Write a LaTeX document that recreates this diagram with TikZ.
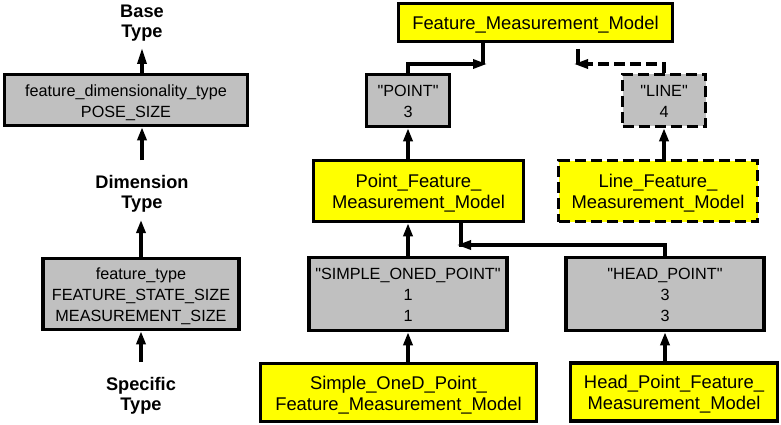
\documentclass[tikz,border=0pt]{standalone}
\usepackage{fontspec}
\newfontfamily\hv{Liberation Sans}
\usetikzlibrary{arrows.meta}
\definecolor{boxgray}{RGB}{192,192,192}
\definecolor{boxyellow}{RGB}{255,255,0}
\newcommand\gtext[1]{\raisebox{-7pt}[0pt][0pt]{\begin{tabular}{@{}c@{}}#1\end{tabular}}}
\newcommand\ytext[1]{\raisebox{-7.3pt}[0pt][0pt]{\begin{tabular}{@{}c@{}}#1\end{tabular}}}
\begin{document}
\begin{tikzpicture}[x=1pt,y=-1pt,font=\hv,
  gbox/.style={draw,line width=3.5pt,fill=boxgray,inner sep=0pt,font=\hv\fontsize{16.2}{21}\selectfont},
  ybox/.style={draw,line width=3.5pt,fill=boxyellow,inner sep=0pt,font=\hv\fontsize{18.4}{21}\selectfont},
  lbl/.style={align=center,inner sep=0pt,font=\hv\bfseries\fontsize{18.2}{20.5}\selectfont},
  dsh/.style={dash pattern=on 11pt off 5pt},
  conn/.style={line width=3.2pt},
  varr/.style={conn,-{Triangle[length=13pt,width=9pt]}},
  larr/.style={conn,-{Triangle[length=16pt,width=9pt]}},
  harr/.style={conn,-{Triangle[length=14pt,width=9pt]},shorten >=-4pt},
]
\useasboundingbox (0,0) rectangle (781,425);

% left column
\node[lbl] (base) at (142,23) {Base\\Type};
\node[gbox,minimum width=243pt,minimum height=51pt] (fdt) at (126,100) {\gtext{feature\_dimensionality\_type\\POSE\_SIZE}};
\node[lbl] (dim) at (142,194) {Dimension\\Type};
\node[gbox,minimum width=196pt,minimum height=71pt] (ft) at (141,294) {\gtext{feature\_type\\FEATURE\_STATE\_SIZE\\MEASUREMENT\_SIZE}};
\node[lbl] (spec) at (141,396) {Specific\\Type};

\coordinate (basept) at (142,48);
\coordinate (dimlo) at (142,160);
\coordinate (dimhi) at (141,220);
\coordinate (specpt) at (141,362);
\draw[larr] (basept |- fdt.north) -- (basept);
\draw[varr] (dimlo) -- (dimlo |- fdt.south);
\draw[varr] (ft.north) -- (dimhi);
\draw[varr] (specpt) -- (ft.south);

% right side
\node[ybox,minimum width=274pt,minimum height=38pt] (fmm) at (535.5,22.5) {\ytext{Feature\_Measurement\_Model}};
\node[gbox,minimum width=83pt,minimum height=52pt] (point) at (408,100.5) {\gtext{"POINT"\\3}};
\node[gbox,dsh,minimum width=83pt,minimum height=52pt] (line) at (664,100.5) {\gtext{"LINE"\\4}};
\node[ybox,minimum width=210pt,minimum height=61pt] (pfmm) at (418.5,191) {\ytext{Point\_Feature\_\\Measurement\_Model}};
\node[ybox,dsh,minimum width=199pt,minimum height=61pt] (lfmm) at (658,191) {\ytext{Line\_Feature\_\\Measurement\_Model}};
\node[gbox,minimum width=198pt,minimum height=73pt] (sop) at (408,294) {\gtext{"SIMPLE\_ONED\_POINT"\\1\\1}};
\node[gbox,minimum width=198pt,minimum height=73pt] (hp) at (665,294) {\gtext{"HEAD\_POINT"\\3\\3}};
\node[ybox,minimum width=276pt,minimum height=58pt] (sofmm) at (398.5,392.5) {\ytext{Simple\_OneD\_Point\_\\Feature\_Measurement\_Model}};
\node[ybox,minimum width=207pt,minimum height=58pt] (hpfmm) at (674,392) {\ytext{Head\_Point\_Feature\_\\Measurement\_Model}};

\coordinate (j1) at (483,64);
\coordinate (j2) at (578,64);
\coordinate (j2top) at (578,49);
\coordinate (j3) at (461,245);
\coordinate (j3end) at (461,247);

\draw[conn] (j1 |- fmm.south) -- (j1);
\draw[harr] (point.north) |- (j1);
\draw[conn] (j2top) -- (j2);
\draw[harr,dsh] (line.north) |- (j2);

\draw[varr] (point |- pfmm.north) -- (point.south);
\draw[varr] (line.south |- lfmm.north) -- (line.south);
\draw[varr] (sop.north) -- (sop |- pfmm.south);
\draw[conn] (j3 |- pfmm.south) -- (j3end);
\draw[harr] (hp.north) |- (j3);
\draw[varr] (sop.south |- sofmm.north) -- (sop.south);
\draw[varr] (hp.south |- hpfmm.north) -- (hp.south);
\end{tikzpicture}
\end{document}
